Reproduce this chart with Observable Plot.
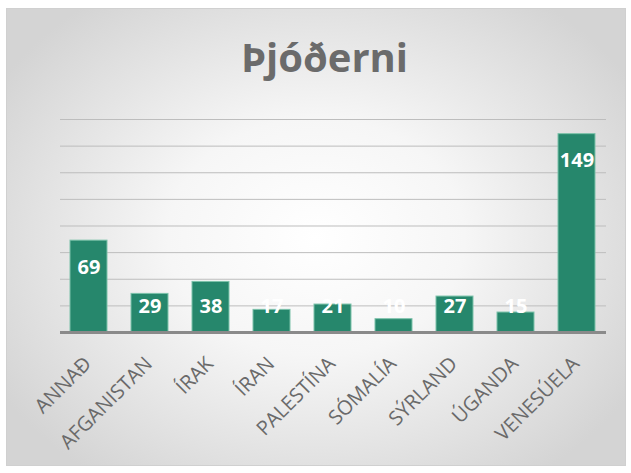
<!DOCTYPE html>
<html><head><meta charset="utf-8">
<script src="https://cdn.jsdelivr.net/npm/d3@7"></script>
<script src="https://cdn.jsdelivr.net/npm/@observablehq/plot@0.6"></script>
<style>
html,body{margin:0;padding:0;background:#fff;}
#frame{position:relative;width:631px;height:473px;overflow:hidden;}
#bg{position:absolute;left:6px;top:8px;width:618px;height:456px;border:1px solid #d0d0d0;
 background:radial-gradient(ellipse 60% 65% at 50% 50%, #ffffff 0%, #f6f6f6 40%, #d4d4d4 100%);}
#title{position:absolute;left:9px;top:37px;width:631px;text-align:center;font:bold 40px/1 "Open Sans",sans-serif;color:#6b6b6b;}
#chart{position:absolute;left:0;top:100px;}
</style></head>
<body><div id="frame"><div id="bg"></div><div id="title">Þjóðerni</div><div id="chart"></div></div>
<script>
const categories = ["ANNAÐ","AFGANISTAN","ÍRAK","ÍRAN","PALESTÍNA","SÓMALÍA","SÝRLAND","ÚGANDA","VENESÚELA"];
const values = [69, 29, 38, 17, 21, 10, 27, 15, 149];
const yTicks = [0,20,40,60,80,100,120,140,160];
const data = categories.map((c,i)=>({cat:c, value:values[i]}));
const barColor = "#26876c";
const chart = Plot.plot({
  width: 631, height: 373,
  marginTop: 19, marginBottom: 141, marginLeft: 60, marginRight: 25,
  style: {background: "transparent", fontFamily: "Open Sans, sans-serif"},
  x: {domain: categories, paddingInner: 0.39, paddingOuter: 0.17, label: null, axis: null},
  y: {domain: [0,160], label: null, axis: null},
  marks: [
    Plot.gridY(yTicks.slice(1), {stroke: "#bdbdbd", strokeOpacity: 1, strokeWidth: 1}),
    Plot.barY(data, {x: "cat", y: "value", fill: barColor, stroke: "#7cc2aa", strokeWidth: 1}),
    Plot.ruleY([0], {stroke: "#8a8a8a", strokeWidth: 3}),
    Plot.text(data, {x: "cat", y: d => Math.max(d.value - 20, 19.5), text: d => String(d.value),
      fill: "white", fontWeight: "bold", fontSize: 20, fontFamily: "Open Sans, sans-serif"}),
    Plot.axisX({tickRotate: -45, tickSize: 0, tickPadding: 28, dx: -1, fontSize: 20, fill: "#6a6a6a", label: null,
      fontFamily: "Open Sans, sans-serif"}),
  ]
});
document.getElementById("chart").appendChild(chart);
</script></body></html>
